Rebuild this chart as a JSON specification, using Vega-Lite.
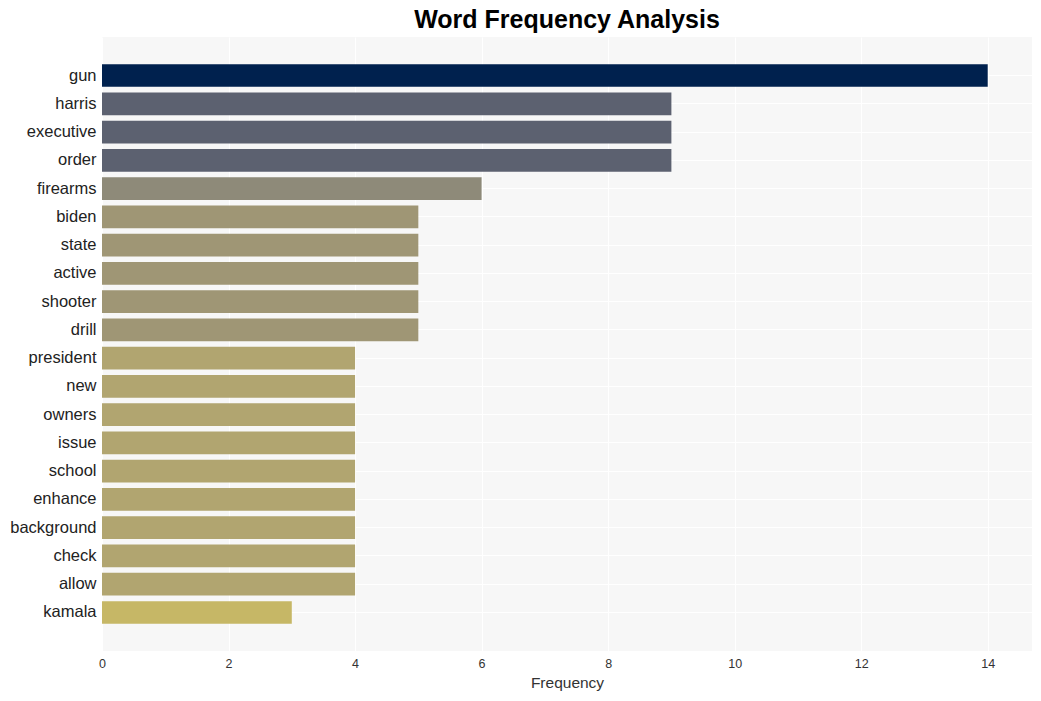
{
  "$schema": "https://vega.github.io/schema/vega-lite/v6.json",
  "width": 930,
  "height": 614,
  "autosize": {"type": "none"},
  "padding": {"left": 102, "top": 37, "right": 9, "bottom": 50},
  "background": "#ffffff",
  "title": {
    "text": "Word Frequency Analysis",
    "font": "Liberation Sans",
    "fontSize": 25,
    "fontWeight": "bold",
    "color": "#000000",
    "anchor": "middle",
    "offset": 4
  },
  "config": {
    "view": {"fill": "#f7f7f7", "stroke": null},
    "axis": {"gridColor": "#ffffff", "gridWidth": 1.2, "domain": false, "ticks": false}
  },
  "data": {
    "values": [
      {"word": "gun", "count": 14},
      {"word": "harris", "count": 9},
      {"word": "executive", "count": 9},
      {"word": "order", "count": 9},
      {"word": "firearms", "count": 6},
      {"word": "biden", "count": 5},
      {"word": "state", "count": 5},
      {"word": "active", "count": 5},
      {"word": "shooter", "count": 5},
      {"word": "drill", "count": 5},
      {"word": "president", "count": 4},
      {"word": "new", "count": 4},
      {"word": "owners", "count": 4},
      {"word": "issue", "count": 4},
      {"word": "school", "count": 4},
      {"word": "enhance", "count": 4},
      {"word": "background", "count": 4},
      {"word": "check", "count": 4},
      {"word": "allow", "count": 4},
      {"word": "kamala", "count": 3}
    ]
  },
  "mark": {"type": "bar"},
  "encoding": {
    "y": {
      "field": "word",
      "type": "nominal",
      "sort": null,
      "scale": {"paddingInner": 0.2, "paddingOuter": 0.965},
      "axis": {
        "title": null,
        "grid": true,
        "bandPosition": 0.5,
        "labelFont": "Liberation Sans",
        "labelFontSize": 16.5,
        "labelColor": "#222222",
        "labelPadding": 6
      }
    },
    "x": {
      "field": "count",
      "type": "quantitative",
      "scale": {"domain": [0, 14.7], "nice": false},
      "axis": {
        "title": "Frequency",
        "values": [0, 2, 4, 6, 8, 10, 12, 14],
        "grid": true,
        "labelFlush": false,
        "labelFont": "Liberation Sans",
        "labelFontSize": 12.5,
        "labelColor": "#333333",
        "labelPadding": 6,
        "titleFont": "Liberation Sans",
        "titleFontSize": 15.5,
        "titleFontWeight": "normal",
        "titleColor": "#333333",
        "titlePadding": 6
      }
    },
    "color": {
      "field": "count",
      "type": "ordinal",
      "scale": {
        "domain": [3, 4, 5, 6, 9, 14],
        "range": ["#c6b766", "#b1a570", "#9f9675", "#8e8a79", "#5c6170", "#00214e"]
      },
      "legend": null
    }
  }
}
